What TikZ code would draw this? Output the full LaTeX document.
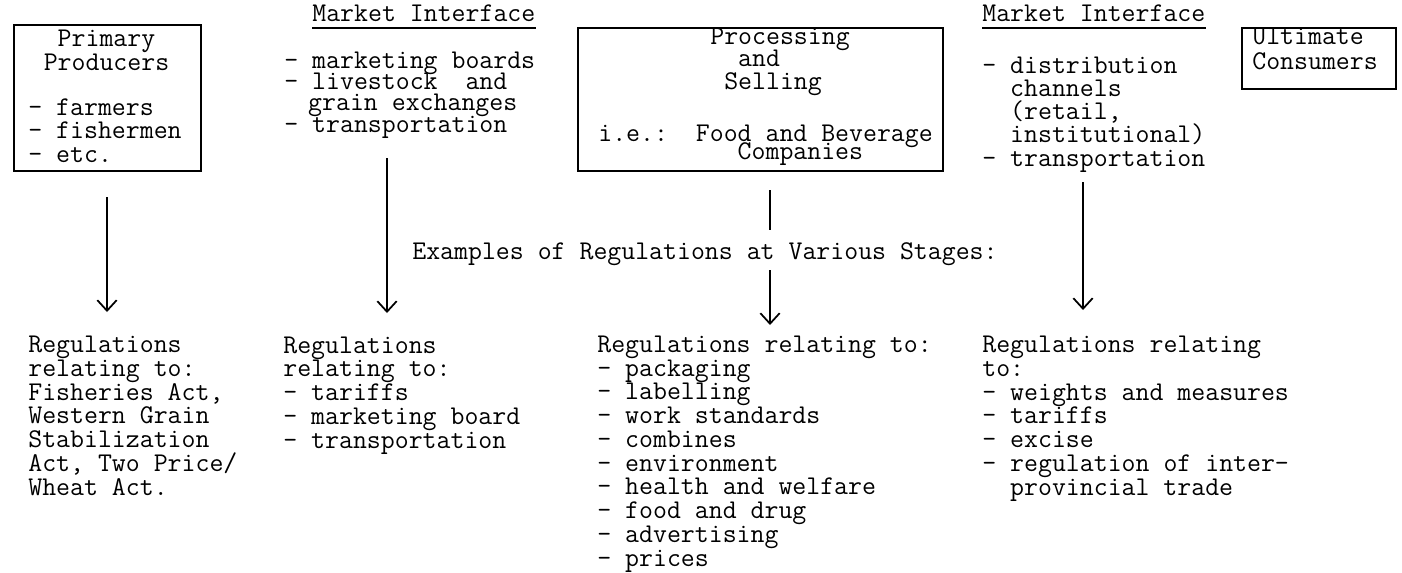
\documentclass[tikz,border=0pt]{standalone}
\usepackage{tikz}
\usetikzlibrary{arrows.meta}
\begin{document}
\frenchspacing
\lineskiplimit=-30pt
\begin{tikzpicture}[x=0.02cm, y=-0.02cm,
        every node/.style={inner sep=0pt, anchor=base west, align=left},
        txt/.style={font=\ttfamily\fontsize{15.4}{#1}\selectfont},
        txt/.default={13.5},
        stagebox/.style={draw, line width=0.9pt, anchor=north west},
        arrow/.style={line width=1pt, -{Straight Barb[length=6pt,width=11pt]}},
        link/.style={line width=1pt}
    ]
    \useasboundingbox (0,0) rectangle (1402,572);

    % top row: stages (nodes sit on the baseline of their last line)
    \node[stagebox, minimum width=3.74cm, minimum height=2.92cm] (prod) at (13,24) {};
    \node[txt=13.1, align=center, anchor=base] (prodname) at (106.5,70) {Primary\\Producers};
    \node[txt=13.1] (prodlist) at (28,162) {- farmers\\- fishermen\\- etc.};

    \node[txt] (mia) at (312,21) {Market Interface};
    \draw[line width=0.8pt] ([yshift=-4pt]mia.base west) -- ([yshift=-4pt]mia.base east);
    \node[txt=12.1] (mialist) at (284,132) {- marketing boards\\- livestock~~and\\\hspace*{34\pgflinewidth}grain exchanges\\- transportation};

    \node[stagebox, minimum width=7.30cm, minimum height=2.86cm] (proc) at (577,27) {};
    \node[txt=12.8] (procname) at (710,89) {Processing\\~~and\\~Selling};
    \node[txt=10.2] (procie) at (598,159) {i.e.:~~Food and Beverage\\~~~~~~~~~~Companies};

    \node[txt] (mib) at (982,21) {Market Interface};
    \draw[line width=0.8pt] ([yshift=-4pt]mib.base west) -- ([yshift=-4pt]mib.base east);
    \node[txt=13.1] (miblist) at (982,166) {- distribution\\~~channels\\~~(retail,\\~~institutional)\\- transportation};

    \node[stagebox, minimum width=3.08cm, minimum height=1.22cm] (cons) at (1241,27) {};
    \node[txt=14.2] (consname) at (1252,69) {Ultimate\\Consumers};

    % middle
    \node[txt] (examples) at (412,259) {Examples of Regulations at Various Stages:};

    % bottom row: regulations
    \node[txt] (rega) at (28,495) {Regulations\\relating to:\\Fisheries Act,\\Western Grain\\Stabilization\\Act, Two Price/\\Wheat Act.};
    \node[txt] (regb) at (283,448) {Regulations\\relating to:\\- tariffs\\- marketing board\\- transportation};
    \node[txt] (regc) at (597,566) {Regulations relating to:\\- packaging\\- labelling\\- work standards\\- combines\\- environment\\- health and welfare\\- food and drug\\- advertising\\- prices};
    \node[txt] (regd) at (982,495) {Regulations relating\\to:\\- weights and measures\\- tariffs\\- excise\\- regulation of inter-\\~~provincial trade};

    % arrows
    \coordinate (a1s) at (107,197);
    \coordinate (a1e) at (107,312);
    \coordinate (a2s) at (387,158);
    \coordinate (a2e) at (387,313);
    \coordinate (a3s) at (770,190);
    \coordinate (a3m) at (770,230);
    \coordinate (a3r) at (770,270);
    \coordinate (a3e) at (770,325);
    \coordinate (a4s) at (1083,182);
    \coordinate (a4e) at (1083,310);
    \draw[arrow] (a1s) -- (a1e);
    \draw[arrow] (a2s) -- (a2e);
    \draw[link] (a3s) -- (a3m);
    \draw[arrow] (a3r) -- (a3e);
    \draw[arrow] (a4s) -- (a4e);
\end{tikzpicture}
\end{document}
